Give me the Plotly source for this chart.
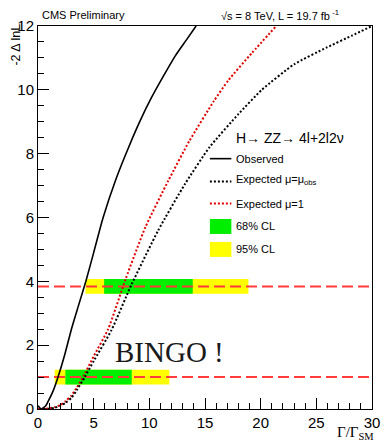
import plotly.graph_objects as go

# ---------------- data ----------------
obs_x = [0.0, 0.3, 0.7, 1.0, 1.4, 1.8, 2.4, 3.0, 3.6, 4.3, 5.0, 5.85, 7.0, 8.2, 9.2, 10.2, 11.3, 12.3, 13.3, 14.2]
obs_y = [0.1, 0.0, 0.1, 0.3, 0.6, 1.0, 1.7, 2.5, 3.2, 4.0, 4.9, 6.0, 7.2, 8.25, 9.05, 9.76, 10.45, 11.05, 11.55, 12.0]

expobs_x = [0.5, 1.0, 1.5, 2.0, 2.5, 3.0, 3.5, 4.2, 5.0, 6.6, 8.4, 10.8, 13.2, 15.4, 18.0, 20.1, 23.0, 25.9, 28.2, 30.0]
expobs_y = [0.0, 0.01, 0.04, 0.1, 0.2, 0.35, 0.6, 1.0, 1.5, 2.47, 3.9, 5.6, 7.05, 8.2, 9.24, 10.0, 10.8, 11.32, 11.7, 12.0]

exp1_x = [0.0, 0.5, 1.0, 1.5, 2.0, 2.5, 3.0, 3.5, 4.0, 5.0, 6.3, 7.9, 9.65, 11.7, 13.6, 15.8, 17.1, 19.2, 21.4]
exp1_y = [0.0, 0.0, 0.02, 0.06, 0.12, 0.25, 0.42, 0.68, 0.97, 1.65, 2.5, 4.1, 5.7, 7.15, 8.4, 9.65, 10.3, 11.15, 12.0]

cl_levels = [3.84, 1.0]          # -2 dlnL levels
cl68_lo = [5.94, 2.46]
cl68_hi = [13.9, 8.42]
cl95_lo = [4.27, 1.5]
cl95_hi = [18.9, 11.8]

x_ticks = [0, 5, 10, 15, 20, 25, 30]
y_ticks = [0, 2, 4, 6, 8, 10, 12]

# ---------------- figure ----------------
OFF = 8                      # page body margin
W, H = 389 - OFF, 443 - OFF
L, R, T, B = 38 - OFF, 9, 25 - OFF, 34
PW, PH = W - L - R, H - T - B

def px(xp):   # page pixel x -> paper
    return (xp - OFF - L) / PW

def py(yp):   # page pixel y -> paper
    return (H - B - (yp - OFF)) / PH

fig = go.Figure()

# bands (horizontal bars)
fig.add_trace(go.Bar(orientation="h", y=cl_levels,
                     x=[h - l for h, l in zip(cl95_hi, cl95_lo)], base=cl95_lo,
                     width=0.46, marker=dict(color="#ffff00", line=dict(width=0)),
                     showlegend=False, hoverinfo="skip"))
fig.add_trace(go.Bar(orientation="h", y=cl_levels,
                     x=[h - l for h, l in zip(cl68_hi, cl68_lo)], base=cl68_lo,
                     width=0.46, marker=dict(color="#00ee00", line=dict(width=0)),
                     showlegend=False, hoverinfo="skip"))

# dashed threshold lines
for lv in cl_levels:
    fig.add_trace(go.Scatter(x=[0, 30], y=[lv, lv], mode="lines",
                             line=dict(color="#ff3b3b", width=2, dash="11px,5px"),
                             showlegend=False, hoverinfo="skip"))

fig.add_trace(go.Scatter(x=exp1_x, y=exp1_y, mode="lines",
                         line=dict(color="#e00000", width=2, dash="2px,2px", shape="spline", smoothing=0.5),
                         showlegend=False))
fig.add_trace(go.Scatter(x=expobs_x, y=expobs_y, mode="lines",
                         line=dict(color="black", width=2, dash="2px,2px", shape="spline", smoothing=0.5),
                         showlegend=False))
fig.add_trace(go.Scatter(x=obs_x, y=obs_y, mode="lines",
                         line=dict(color="black", width=1.6, shape="spline", smoothing=0.5),
                         showlegend=False))

fig.update_layout(barmode="overlay")

font = "Liberation Sans, Arial, sans-serif"
axis_common = dict(showline=True, linecolor="black", linewidth=1, mirror=True,
                   ticks="inside", ticklen=11, tickcolor="black", tickwidth=1,
                   showgrid=False, zeroline=False,
                   tickfont=dict(family=font, size=15, color="black"))

fig.update_xaxes(range=[0, 30], tickvals=x_ticks,
                 minor=dict(ticks="inside", ticklen=6, dtick=1, tickcolor="black", showgrid=False),
                 **axis_common)
fig.update_yaxes(range=[0, 12], tickvals=y_ticks,
                 minor=dict(ticks="inside", ticklen=6, dtick=0.5, tickcolor="black", showgrid=False),
                 **axis_common)

ann = []
ann.append(dict(text="CMS Preliminary", x=px(40), y=py(14), xref="paper", yref="paper",
                xanchor="left", yanchor="middle", showarrow=False,
                font=dict(family=font, size=11, color="black")))
ann.append(dict(text="√s = 8 TeV, L = 19.7 fb<sup> -1</sup>", x=px(223), y=py(14), xref="paper", yref="paper",
                xanchor="left", yanchor="middle", showarrow=False,
                font=dict(family=font, size=11, color="black")))
ann.append(dict(text="-2 Δ lnL", x=px(15), y=py(22), xref="paper", yref="paper", textangle=-90,
                xanchor="center", yanchor="top", showarrow=False, borderpad=0,
                font=dict(family=font, size=12.5, color="black")))
ann.append(dict(text="Γ/Γ<sub>SM</sub>", x=px(383), y=py(443), xref="paper", yref="paper",
                xanchor="right", yanchor="bottom", showarrow=False, borderpad=0,
                font=dict(family="Liberation Serif, Times New Roman, serif", size=15, color="black")))
ann.append(dict(text="BINGO !", x=11.8, y=1.78, xref="x", yref="y",
                xanchor="center", yanchor="middle", showarrow=False,
                font=dict(family="Liberation Serif, Times New Roman, serif", size=29, color="#1a1a1a")))

# legend (manual)
ann.append(dict(text="H→ ZZ→ 4l+2l2ν", x=px(239), y=py(137), xref="paper", yref="paper",
                xanchor="left", yanchor="middle", showarrow=False,
                font=dict(family=font, size=14, color="black")))
leg_rows = [
    ("Observed", 158, 158, dict(color="black", width=1.6), None),
    ("Expected μ=μ<sub>obs</sub>", 181, 179, dict(color="black", width=2, dash="2px,2px"), None),
    ("Expected μ=1", 203, 203, dict(color="#e00000", width=2, dash="2px,2px"), None),
    ("68% CL", 226, 226, None, "#00ee00"),
    ("95% CL", 249, 249, None, "#ffff00"),
]
shapes = []
for label, yc, ty, ln, fillc in leg_rows:
    ann.append(dict(text=label, x=px(239), y=py(ty), xref="paper", yref="paper",
                    xanchor="left", yanchor="middle", showarrow=False,
                    font=dict(family=font, size=11, color="black")))
    if ln is not None:
        shapes.append(dict(type="line", xref="paper", yref="paper",
                           x0=px(214), x1=px(236), y0=py(yc), y1=py(yc), line=ln))
    else:
        shapes.append(dict(type="rect", xref="paper", yref="paper",
                           x0=px(214), x1=px(236), y0=py(yc - 7.5), y1=py(yc + 7.5),
                           line=dict(width=0), fillcolor=fillc))

fig.update_layout(width=W, height=H, margin=dict(l=L, r=R, t=T, b=B),
                  paper_bgcolor="white", plot_bgcolor="white",
                  annotations=ann, shapes=shapes, showlegend=False)

fig.write_html("out.html")
